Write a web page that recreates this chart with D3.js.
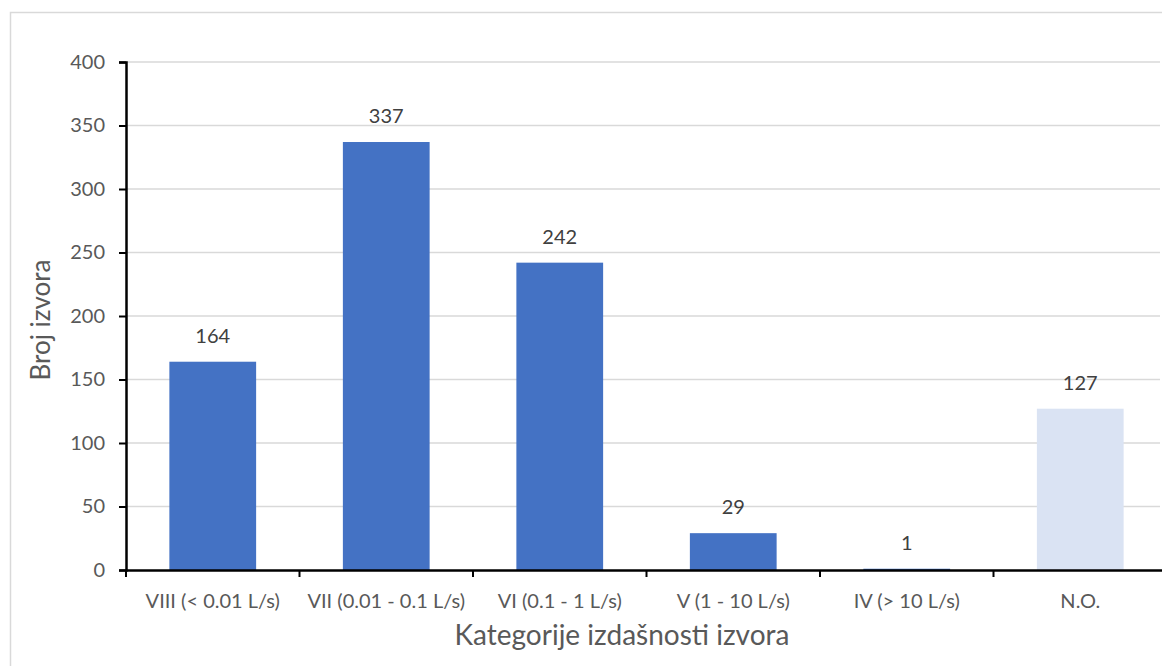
<!DOCTYPE html>
<html>
<head>
<meta charset="utf-8">
<script src="https://cdn.jsdelivr.net/npm/d3@7"></script>
<style>
  body { margin: 0; background: #fff; }
  svg text { font-family: Lato, "Open Sans", sans-serif; }
</style>
</head>
<body>
<svg id="chart" width="1162" height="666"></svg>
<script>
// chart data
var categories = ["VIII (< 0.01 L/s)", "VII (0.01 - 0.1 L/s)", "VI (0.1 - 1 L/s)", "V (1 - 10 L/s)", "IV (> 10 L/s)", "N.O."];
var counts = [164, 337, 242, 29, 1, 127];
var barColors = ["#4472c4", "#4472c4", "#4472c4", "#4472c4", "#4472c4", "#dae3f3"];
var yTicks = [0, 50, 100, 150, 200, 250, 300, 350, 400];

var svg = d3.select("svg#chart");

//Outer chart border (right and bottom edges fall outside the picture)
svg.append("rect")
  .attr("x", 10.5).attr("y", 12.5)
  .attr("width", 1200).attr("height", 700)
  .attr("fill", "none")
  .attr("stroke", "#d9d9d9")
  .attr("stroke-width", 1.5);

var margin = { left: 126, top: 62, bottom: 570, right: 1167 };

var x = d3.scaleBand()
  .domain(categories)
  .range([margin.left, margin.right])
  .paddingInner(0.5)
  .paddingOuter(0.25);

var y = d3.scaleLinear()
  .domain([0, 400])
  .range([margin.bottom, margin.top]);

//Gridlines
svg.append("g")
  .selectAll("line")
  .data(yTicks.filter(function (d) { return d > 0; }))
  .enter().append("line")
    .attr("x1", margin.left).attr("x2", 1160)
    .attr("y1", function (d) { return y(d); })
    .attr("y2", function (d) { return y(d); })
    .attr("stroke", "#d9d9d9")
    .attr("stroke-width", 1.5);

//Bars
svg.append("g")
  .selectAll("rect")
  .data(counts)
  .enter().append("rect")
    .attr("x", function (d, i) { return x(categories[i]); })
    .attr("y", function (d) { return y(d); })
    .attr("width", x.bandwidth())
    .attr("height", function (d) { return y(0) - y(d); })
    .attr("fill", function (d, i) { return barColors[i]; });

//Value labels
svg.append("g")
  .selectAll("text")
  .data(counts)
  .enter().append("text")
    .attr("x", function (d, i) { return x(categories[i]) + x.bandwidth() / 2; })
    .attr("y", function (d) { return y(d) - 19; })
    .attr("text-anchor", "middle")
    .attr("font-size", 20)
    .attr("fill", "#404040")
    .text(function (d) { return d; });

//Y axis
var yAxis = svg.append("g")
  .attr("transform", "translate(" + margin.left + ",0)")
  .call(d3.axisLeft(y).tickValues(yTicks).tickSize(7).tickPadding(14));
yAxis.select(".domain").attr("stroke", "#000").attr("stroke-width", 2.5);
yAxis.selectAll(".tick line").attr("stroke", "#000").attr("stroke-width", 2);
yAxis.selectAll(".tick text")
  .attr("font-size", 20)
  .attr("fill", "#595959")
  .style("font-family", "Lato, 'Open Sans', sans-serif");

//X axis, ticks on the category boundaries
var xAxis = svg.append("g")
  .attr("transform", "translate(0," + margin.bottom + ")")
  .call(d3.axisBottom(x).tickSize(0).tickPadding(24));
xAxis.select(".domain").attr("stroke", "#000").attr("stroke-width", 2.5);
xAxis.selectAll(".tick text")
  .attr("font-size", 20)
  .attr("fill", "#595959")
  .style("font-family", "Lato, 'Open Sans', sans-serif");

var step = x.step();
xAxis.selectAll(".boundary")
  .data(d3.range(categories.length + 1))
  .enter().append("line")
    .attr("class", "boundary")
    .attr("x1", function (d) { return margin.left + d * step; })
    .attr("x2", function (d) { return margin.left + d * step; })
    .attr("y1", 0).attr("y2", 7)
    .attr("stroke", "#000")
    .attr("stroke-width", 2);

//Axis titles
svg.append("text")
  .attr("x", 622).attr("y", 645)
  .attr("text-anchor", "middle")
  .attr("font-size", 28)
  .attr("fill", "#595959")
  .text("Kategorije izdašnosti izvora");

svg.append("text")
  .attr("transform", "translate(50,320) rotate(-90)")
  .attr("text-anchor", "middle")
  .attr("font-size", 26)
  .attr("fill", "#595959")
  .text("Broj izvora");
</script>
</body>
</html>
